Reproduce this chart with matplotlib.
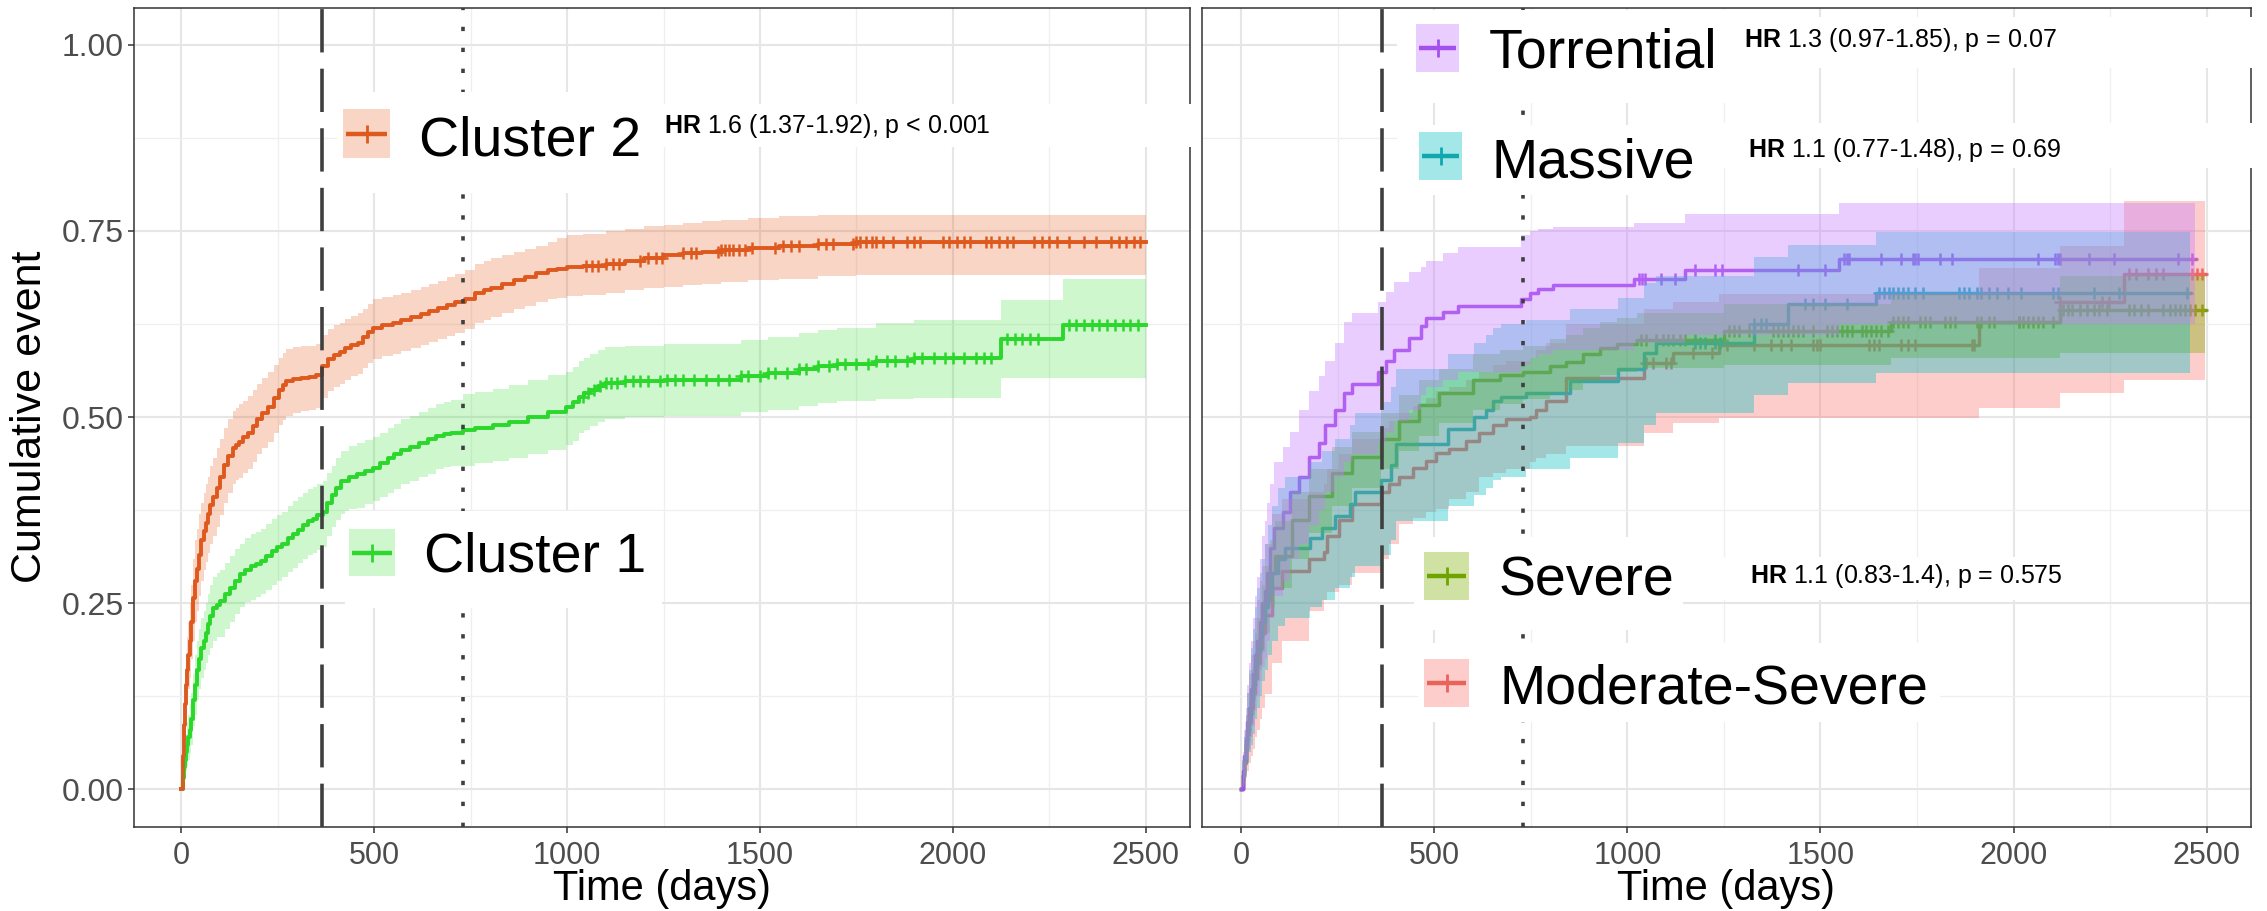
import numpy as np
import matplotlib
matplotlib.use("Agg")
import matplotlib.pyplot as plt
from matplotlib.patches import Rectangle
from matplotlib.lines import Line2D

plt.rcParams['font.family'] = ['Liberation Sans', 'DejaVu Sans']
plt.rcParams['mathtext.fontset'] = 'custom'
plt.rcParams['mathtext.rm'] = 'Liberation Sans'
plt.rcParams['mathtext.bf'] = 'Liberation Sans:bold'

# ---------------- data: left panel (clusters) ----------------
c2_time = [0, 3, 6, 9, 12, 15, 18, 21, 25, 29, 34, 40, 46, 52, 58, 64, 70, 75, 83, 92,
           100, 110, 120, 133, 141, 150, 160, 173, 185, 197, 210, 225, 240, 254, 263, 272, 290, 310, 330, 350,
           364, 380, 395, 410, 425, 440, 457, 470, 485, 497, 520, 549, 570, 595, 620, 642, 665, 688, 710, 734,
           760, 785, 803, 830, 861, 890, 919, 950, 975, 1000, 1040, 1100, 1150, 1200, 1250, 1300, 1350, 1400,
           1470, 1550, 1650, 1750, 2500]
c2_est = [0, .045, .086, .115, .14, .16, .18, .2, .225, .257, .28, .296, .315, .335, .347, .358, .37, .382, .393,
          .405, .42, .436, .448, .459, .463, .467, .473, .479, .488, .498, .506, .514, .525, .537, .543, .549,
          .551, .553, .554, .556, .568, .578, .583, .588, .593, .597, .6, .607, .614, .62, .623, .626, .63, .634,
          .638, .642, .646, .65, .654, .658, .666, .671, .674, .679, .684, .688, .693, .697, .699, .701, .703,
          .706, .71, .714, .717, .72, .722, .725, .727, .73, .733, .735, .735]
c2_up = [0, .07, .12, .155, .18, .205, .225, .25, .275, .31, .335, .35, .37, .385, .398, .41, .42, .435, .445,
         .458, .47, .485, .497, .508, .512, .517, .522, .528, .537, .545, .553, .56, .57, .58, .586, .592, .594,
         .595, .596, .598, .61, .618, .623, .627, .632, .636, .64, .645, .652, .658, .661, .664, .667, .671,
         .675, .679, .683, .688, .692, .697, .705, .71, .713, .718, .722, .726, .73, .735, .74, .744, .746, .75,
         .753, .756, .758, .761, .763, .765, .767, .77, .771, .772, .772]
c2_lo = [0, .02, .05, .075, .1, .115, .135, .15, .175, .2, .225, .24, .26, .28, .295, .305, .318, .33, .34, .352,
         .368, .385, .398, .41, .415, .418, .425, .43, .44, .45, .458, .467, .478, .49, .496, .502, .505, .508,
         .51, .512, .525, .535, .54, .545, .55, .555, .558, .566, .573, .578, .582, .585, .589, .593, .597, .601,
         .605, .609, .613, .618, .626, .631, .634, .64, .645, .649, .654, .658, .66, .662, .664, .667, .67,
         .673, .675, .678, .679, .681, .684, .686, .689, .691, .691]
c2_cens = [1050, 1065, 1080, 1100, 1120, 1135, 1190, 1210, 1230, 1245, 1300, 1320, 1335, 1390, 1400, 1410, 1420,
           1430, 1445, 1460, 1480, 1540, 1560, 1580, 1600, 1650, 1670, 1690, 1740, 1750, 1760, 1775, 1790, 1800,
           1820, 1845, 1880, 1900, 1915, 1975, 1990, 2010, 2030, 2045, 2085, 2100, 2120, 2140, 2155, 2210, 2230,
           2250, 2270, 2300, 2340, 2370, 2410, 2430, 2450, 2470, 2485]

c1_time = [0, 3, 6, 9, 12, 15, 18, 21, 25, 29, 34, 40, 46, 52, 58, 64, 70, 75, 83, 92,
           100, 112, 125, 138, 151, 165, 180, 193, 206, 220, 235, 248, 260, 275, 290, 303, 315, 328, 340, 352,
           366, 378, 390, 402, 415, 435, 455, 475, 497, 515, 535, 552, 570, 592, 615, 638, 661, 680, 700, 730,
           760, 807, 850, 898, 950, 998, 1015, 1030, 1045, 1060, 1080, 1098, 1150, 1250, 1400, 1450, 1520, 1600,
           1650, 1700, 1800, 1900, 2125, 2285, 2500]
c1_est = [0, .015, .03, .04, .05, .06, .07, .08, .095, .12, .14, .16, .175, .19, .2, .21, .222, .233, .243, .248,
          .253, .262, .27, .28, .289, .295, .3, .303, .307, .313, .32, .325, .33, .337, .343, .349, .355, .36,
          .363, .368, .373, .385, .395, .405, .414, .42, .424, .428, .432, .438, .445, .45, .456, .46, .465,
          .47, .474, .477, .479, .483, .486, .489, .494, .5, .507, .514, .52, .527, .532, .537, .542, .546,
          .548, .55, .55, .555, .559, .564, .568, .571, .576, .58, .605, .624, .624]
c1_up = [0, .03, .05, .065, .075, .09, .1, .115, .13, .155, .18, .2, .215, .23, .24, .25, .262, .275, .285, .29,
         .295, .304, .313, .323, .33, .337, .343, .346, .35, .356, .363, .368, .373, .38, .387, .393, .398, .403,
         .406, .41, .414, .425, .435, .445, .455, .461, .465, .469, .473, .479, .486, .491, .497, .502, .507,
         .512, .517, .52, .523, .531, .534, .538, .543, .55, .556, .561, .567, .575, .58, .585, .59, .594, .596,
         .598, .598, .603, .607, .613, .617, .62, .626, .63, .657, .685, .685]
c1_lo = [0, .003, .01, .018, .025, .032, .04, .048, .06, .085, .1, .12, .135, .15, .16, .17, .18, .19, .2, .205,
         .205, .215, .225, .235, .245, .252, .255, .258, .262, .268, .275, .28, .285, .292, .298, .304, .31,
         .315, .318, .322, .325, .34, .352, .362, .37, .376, .378, .383, .388, .393, .398, .404, .41, .414, .42,
         .424, .43, .433, .435, .435, .438, .441, .445, .45, .456, .462, .468, .478, .483, .488, .494, .498, .5,
         .502, .502, .507, .51, .515, .519, .522, .524, .525, .552, .553, .553]
c1_cens = [1040, 1055, 1070, 1085, 1100, 1115, 1130, 1150, 1170, 1190, 1210, 1240, 1260, 1280, 1300, 1330, 1360,
           1390, 1420, 1450, 1470, 1500, 1520, 1540, 1570, 1600, 1620, 1650, 1680, 1700, 1720, 1750, 1780, 1800,
           1830, 1850, 1880, 1900, 1920, 1950, 1980, 2000, 2030, 2060, 2080, 2100, 2140, 2160, 2180, 2200, 2220,
           2300, 2320, 2340, 2360, 2380, 2400, 2420, 2440, 2460, 2480]

# ---------------- data: right panel (groups) ----------------
tor_time = [0, 4, 8, 12, 16, 20, 25, 30, 36, 42, 48, 55, 62, 68, 75, 84,
            107, 127, 149, 175, 201, 218, 244, 266, 288, 355, 374, 396, 435, 465, 478, 522, 561, 725, 747, 769,
            808, 1016, 1150, 1549, 2470]
tor_est = [0, .025, .045, .065, .09, .11, .135, .155, .18, .2, .225, .25, .266, .29, .324, .351,
           .372, .399, .42, .447, .465, .489, .51, .532, .544, .561, .575, .59, .606, .622, .633, .641, .649,
           .658, .666, .672, .678, .686, .697, .712, .712]
tor_up = [0, .05, .08, .11, .14, .17, .2, .23, .26, .285, .31, .34, .36, .385, .41, .44,
          .46, .48, .51, .535, .555, .575, .6, .628, .64, .655, .668, .682, .695, .702, .71, .72, .729, .745,
          .75, .753, .755, .761, .773, .787, .787]
tor_lo = [0, .005, .015, .025, .04, .055, .07, .085, .105, .125, .145, .165, .175, .2, .23, .26,
          .28, .31, .33, .355, .375, .4, .42, .44, .45, .465, .48, .495, .51, .53, .54, .55, .56, .57, .58,
          .585, .59, .6, .61, .625, .625]
tor_cens = [1029, 1038, 1046, 1086, 1124, 1175, 1226, 1245, 1442, 1512, 1562, 1568, 1575, 1657, 1708, 1739, 1746,
            1752, 1810, 1841, 2063, 2107, 2114, 2120, 2196, 2259, 2425, 2463]

mas_time = [0, 4, 8, 12, 16, 20, 25, 30, 36, 42, 48, 55, 62, 70, 80, 95,
            114, 179, 210, 244, 283, 296, 361, 387, 400, 535, 604, 634, 652, 673, 738, 851, 977, 1042, 1074,
            1327, 1416, 1645, 2457]
mas_est = [0, .02, .04, .06, .08, .1, .12, .14, .165, .185, .205, .225, .245, .265, .29, .31,
           .324, .338, .351, .367, .383, .399, .415, .436, .464, .484, .5, .51, .521, .527, .532, .548, .564,
           .586, .599, .625, .652, .666, .666]
mas_up = [0, .04, .07, .1, .13, .16, .19, .215, .245, .27, .29, .31, .33, .355, .38, .405,
          .42, .44, .455, .47, .49, .505, .52, .54, .565, .585, .6, .61, .62, .625, .63, .645, .66, .68, .69,
          .715, .731, .749, .749]
mas_lo = [0, .005, .012, .022, .035, .05, .06, .075, .095, .11, .125, .145, .16, .18, .2, .22,
          .23, .245, .255, .27, .285, .3, .315, .335, .36, .38, .395, .405, .415, .42, .43, .445, .465, .49,
          .505, .53, .546, .559, .559]
mas_cens = [1175, 1188, 1201, 1226, 1239, 1327, 1346, 1359, 1461, 1480, 1512, 1569, 1651, 1664, 1677, 1689, 1702,
            1715, 1727, 1746, 1766, 1860, 1873, 1886, 1905, 1917, 1937, 1956, 1987, 2019, 2101, 2114, 2209, 2273,
            2450]

sev_time = [0, 4, 8, 12, 16, 20, 25, 30, 36, 42, 48, 55, 62, 75, 88,
            132, 175, 236, 288, 361, 409, 461, 513, 600, 669, 730, 799, 842, 886, 929, 972, 1024, 1251, 1683,
            2120, 2495]
sev_est = [0, .02, .04, .06, .08, .1, .12, .14, .165, .185, .205, .23, .255, .29, .314,
           .362, .394, .425, .447, .471, .495, .516, .532, .55, .556, .561, .569, .574, .585, .593, .598, .603,
           .615, .628, .644, .644]
sev_up = [0, .035, .06, .085, .11, .135, .16, .18, .21, .23, .25, .275, .3, .335, .36,
          .4, .43, .46, .48, .505, .53, .55, .565, .585, .59, .595, .605, .61, .62, .628, .633, .64, .652, .665,
          .69, .69]
sev_lo = [0, .008, .02, .035, .05, .065, .085, .1, .125, .145, .16, .185, .21, .245, .27,
          .31, .345, .38, .405, .43, .455, .475, .492, .51, .518, .524, .532, .537, .548, .556, .561, .566, .57,
          .58, .586, .586]
sev_cens = [1036, 1048, 1074, 1093, 1105, 1118, 1137, 1150, 1175, 1226, 1264, 1277, 1289, 1315, 1327, 1378, 1391,
            1404, 1416, 1429, 1442, 1454, 1480, 1518, 1530, 1543, 1556, 1569, 1581, 1607, 1619, 1632, 1645, 1657,
            1676, 1689, 1702, 1714, 1727, 1759, 1772, 1784, 1822, 1835, 1848, 1905, 1917, 1937, 1949, 2013, 2025,
            2038, 2051, 2063, 2076, 2101, 2127, 2140, 2152, 2171, 2190, 2209, 2222, 2241, 2298, 2311, 2330, 2349,
            2387, 2406, 2419, 2431, 2444, 2457, 2470, 2489]

mod_time = [0, 4, 8, 12, 16, 20, 25, 30, 36, 42, 48, 55, 62, 80,
            106, 175, 214, 223, 253, 288, 361, 383, 409, 444, 478, 504, 539, 582, 617, 652, 686, 747, 764, 790,
            842, 1042, 1118, 1238, 1911, 2120, 2285, 2495]
mod_est = [0, .018, .035, .055, .075, .09, .11, .13, .15, .17, .19, .21, .234, .27,
           .293, .309, .319, .34, .362, .383, .399, .41, .42, .431, .441, .452, .457, .468, .479, .489, .497,
           .5, .51, .521, .553, .573, .586, .597, .628, .655, .692, .692]
mod_up = [0, .04, .07, .1, .13, .155, .18, .2, .23, .255, .28, .3, .33, .37,
          .39, .4, .41, .43, .45, .47, .485, .495, .505, .515, .525, .535, .54, .55, .56, .57, .575, .58, .59,
          .6, .625, .645, .655, .665, .7, .73, .79, .79]
mod_lo = [0, .003, .008, .015, .025, .035, .045, .055, .07, .08, .095, .11, .128, .17,
          .2, .239, .255, .265, .275, .29, .31, .33, .356, .365, .372, .377, .39, .4, .42, .425, .43, .44, .445,
          .45, .461, .479, .492, .499, .512, .532, .55, .55]
mod_cens = [1048, 1067, 1099, 1112, 1169, 1220, 1258, 1327, 1372, 1397, 1423, 1480, 1492, 1499, 1626, 1639, 1651,
            1708, 1727, 1746, 1892, 1898, 2013, 2120, 2228, 2247, 2298, 2317, 2349, 2368, 2387, 2463, 2476, 2489]

y_ticks = [0.00, 0.25, 0.50, 0.75, 1.00]
y_ticklabels = ["0.00", "0.25", "0.50", "0.75", "1.00"]
x_ticks = [0, 500, 1000, 1500, 2000, 2500]
landmarks = [365, 730]

left_groups = [
    ("Cluster 1", c1_time, c1_est, c1_lo, c1_up, c1_cens, "#2ED62E", "#22DD22", 0.22),
    ("Cluster 2", c2_time, c2_est, c2_lo, c2_up, c2_cens, "#DB5A1E", "#E8581C", 0.25),
]
right_groups = [
    ("Moderate-Severe", mod_time, mod_est, mod_lo, mod_up, mod_cens, "#E8635A", "#F8766D", 0.36),
    ("Severe", sev_time, sev_est, sev_lo, sev_up, sev_cens, "#6FA300", "#7CAE00", 0.36),
    ("Massive", mas_time, mas_est, mas_lo, mas_up, mas_cens, "#10A8AE", "#00BFC4", 0.36),
    ("Torrential", tor_time, tor_est, tor_lo, tor_up, tor_cens, "#A450EC", "#C77CFF", 0.38),
]

W, H = 2267, 911
fig = plt.figure(figsize=(W / 100, H / 100), dpi=100)


def fx(x):
    return x / W


def fy(y):
    return 1 - y / H


def draw_panel(ax, groups, xlim, lw):
    for name, t, e, lo, up, cens, lc, fc, a in groups:
        ax.step(t, e, where='post', color=lc, lw=lw, zorder=3)
        idx = np.searchsorted(t, cens, side='right') - 1
        ax.plot(cens, np.asarray(e)[idx], ls='none', marker='+', ms=9, mew=1.8, color=lc, zorder=3)
    for name, t, e, lo, up, cens, lc, fc, a in groups:
        ax.fill_between(t, lo, up, step='post', color=fc, alpha=a, lw=0, zorder=4)
    ax.axvline(landmarks[0], color='#3F3F3F', lw=2.6, dashes=(12, 4.5), zorder=5)
    ax.axvline(landmarks[1], color='#3F3F3F', lw=2.6, dashes=(1.2, 4.6), zorder=5)
    ax.set_xlim(*xlim)
    ax.set_ylim(-0.05, 1.05)
    ax.set_xticks(x_ticks)
    ax.set_xticks([250, 750, 1250, 1750, 2250], minor=True)
    ax.set_yticks(y_ticks)
    ax.set_yticks([0.125, 0.375, 0.625, 0.875], minor=True)
    ax.grid(which='major', color='#E6E6E6', lw=1.5, zorder=0)
    ax.grid(which='minor', color='#EFEFEF', lw=0.9, zorder=0)
    ax.set_axisbelow(True)
    for s in ax.spines.values():
        s.set_color('#333333')
        s.set_linewidth(1.1)
    ax.tick_params(which='major', length=4.5, width=1.1, color='#333333', labelcolor='#4D4D4D',
                   labelsize=22, pad=6)
    ax.tick_params(which='minor', length=0)


axL = fig.add_axes([134 / W, 1 - 826.7 / H, 1056 / W, 819.2 / H])
draw_panel(axL, left_groups, (-123, 2615), 2.8)
axL.set_yticklabels(y_ticklabels)
axL.tick_params(axis='y', labelsize=23, pad=3)

axR = fig.add_axes([1202 / W, 1 - 826.7 / H, 1049 / W, 819.2 / H])
draw_panel(axR, right_groups, (-101.5, 2615), 2.5)
axR.tick_params(axis='y', left=False, labelleft=False)

# axis titles
fig.text(fx(30), fy(417), "Cumulative event", rotation=90, ha='center', va='center', fontsize=31)
fig.text(fx(662), fy(889), "Time (days)", ha='center', va='center', fontsize=30)
fig.text(fx(1726), fy(889), "Time (days)", ha='center', va='center', fontsize=30)


def wbox(x0, y0, x1, y1):
    fig.add_artist(Rectangle((fx(x0), fy(y1)), (x1 - x0) / W, (y1 - y0) / H, transform=fig.transFigure,
                             facecolor='white', edgecolor='none', zorder=5))


def key(x0, y0, x1, y1, lc, fc, a):
    fig.add_artist(Rectangle((fx(x0), fy(y1)), (x1 - x0) / W, (y1 - y0) / H, transform=fig.transFigure,
                             facecolor=fc, alpha=a, edgecolor='none', zorder=6))
    yc = (y0 + y1) / 2
    xc = (x0 + x1) / 2
    fig.add_artist(Line2D([fx(x0 + 3), fx(x1 - 3)], [fy(yc), fy(yc)], transform=fig.transFigure,
                          color=lc, lw=3.2, zorder=7, solid_capstyle='butt'))
    fig.add_artist(Line2D([fx(xc), fx(xc)], [fy(yc - 9), fy(yc + 9)], transform=fig.transFigure,
                          color=lc, lw=2.0, zorder=7, solid_capstyle='butt'))


# white boxes
for b in [(337, 92, 660, 193), (660, 104, 1196, 147), (345, 511, 662, 608),
          (1397, 10, 1727, 103), (1727, 17, 2267, 68), (1397, 125, 1724, 195), (1706, 123, 2267, 168),
          (1414, 537, 1683, 630), (1692, 557, 2090, 600), (1418, 643, 1940, 722)]:
    wbox(*b)

gl = {g[0]: g for g in left_groups + right_groups}
entries = [
    ("Cluster 2", (343, 109, 390, 158), 419, 156),
    ("Cluster 1", (349, 529, 395, 576), 424, 572),
    ("Torrential", (1416, 24, 1459, 72), 1489, 67),
    ("Massive", (1419, 132, 1462, 180), 1492, 177),
    ("Severe", (1424, 552, 1469, 600), 1499, 595),
    ("Moderate-Severe", (1424, 659, 1469, 707), 1499, 703),
]
for name, kb, tx, ty in entries:
    g = gl[name]
    key(*kb, g[6], g[7], g[8])
    fig.text(fx(tx), fy(ty), name, ha='left', va='baseline', fontsize=40, zorder=8)

hr_texts = [
    (r"$\mathbf{HR}$ 1.6 (1.37-1.92), p < 0.001", 664, 133),
    (r"$\mathbf{HR}$ 1.3 (0.97-1.85), p = 0.07", 1744, 47),
    (r"$\mathbf{HR}$ 1.1 (0.77-1.48), p = 0.69", 1748, 157),
    (r"$\mathbf{HR}$ 1.1 (0.83-1.4), p = 0.575", 1750, 583),
]
for s, tx, ty in hr_texts:
    fig.text(fx(tx), fy(ty), s, ha='left', va='baseline', fontsize=18, zorder=8)

fig.savefig("out.png", dpi=100)
